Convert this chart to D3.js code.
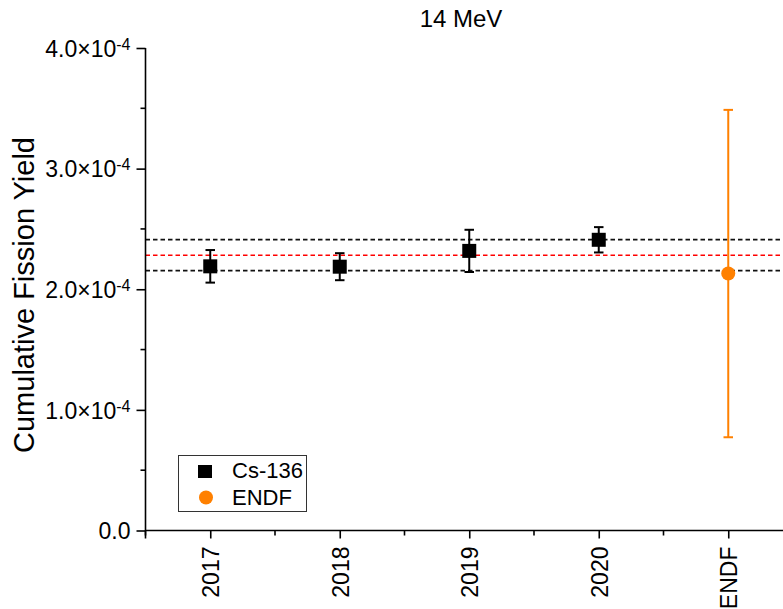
<!DOCTYPE html>
<html>
<head>
<meta charset="utf-8">
<script src="https://cdn.jsdelivr.net/npm/d3@7"></script>
<style>
  html, body { margin: 0; padding: 0; background: #fff; }
  svg { display: block; font-family: "Liberation Sans", Arial, sans-serif; }
</style>
</head>
<body>
<svg id="chart" width="783" height="609"></svg>
<script>
// Cumulative fission yield of Cs-136 at 14 MeV, by measurement year, with the ENDF evaluation
const categories = ["2017", "2018", "2019", "2020", "ENDF"];
const measuredYears = ["2017", "2018", "2019", "2020"];
const measuredYield = [2.19e-4, 2.187e-4, 2.318e-4, 2.41e-4];
const measuredError = [0.135e-4, 0.112e-4, 0.175e-4, 0.105e-4];
const endfYield = [2.13e-4];
const endfError = [1.357e-4];
// reference band: mean (red) and its upper / lower bounds (black)
const meanLine = 2.282e-4;
const boundLines = [2.154e-4, 2.411e-4];
const yTicks = [0, 1e-4, 2e-4, 3e-4, 4e-4];
const yMinorTicks = [0.5e-4, 1.5e-4, 2.5e-4, 3.5e-4];

const svg = d3.select("#chart");
const W = 783;
const plotLeft = 145.5, plotBottom = 530.5, plotTop = 48;
const step = 129.5;

const x = d3.scaleBand().domain(categories).range([plotLeft, plotLeft + step * categories.length]).paddingInner(0).paddingOuter(0);
const y = d3.scaleLinear().domain([0, 4e-4]).range([plotBottom, plotTop]);
const cx = c => x(c) + x.bandwidth() / 2;

const black = "#000";
const orange = "#ff8000";

// dashed reference lines
const refG = svg.append("g");
boundLines.forEach(v => {
  refG.append("line")
    .attr("x1", plotLeft).attr("x2", W)
    .attr("y1", y(v)).attr("y2", y(v))
    .attr("stroke", "#111").attr("stroke-width", 1.6).attr("stroke-dasharray", "4.5,3");
});
refG.append("line")
  .attr("x1", plotLeft).attr("x2", W)
  .attr("y1", y(meanLine)).attr("y2", y(meanLine))
  .attr("stroke", "#f00").attr("stroke-width", 1.6).attr("stroke-dasharray", "4.5,3");

// x axis: major ticks at categories, minor ticks at category boundaries
const xAxis = svg.append("g").attr("transform", `translate(0,${plotBottom})`);
xAxis.append("line").attr("x1", plotLeft).attr("x2", W).attr("y1", 0).attr("y2", 0)
  .attr("stroke", black).attr("stroke-width", 1.6);
const xMinor = categories.map(c => x(c));
xAxis.selectAll("line.minor").data(xMinor).join("line").attr("class", "minor")
  .attr("x1", d => d).attr("x2", d => d).attr("y1", 0).attr("y2", 5)
  .attr("stroke", black).attr("stroke-width", 1.6);
const xa = d3.axisBottom(d3.scalePoint().domain(categories).range([cx(categories[0]), cx(categories[categories.length - 1])]))
  .tickSize(8).tickPadding(9);
const xg = svg.append("g").attr("transform", `translate(0,${plotBottom})`).call(xa);
xg.select(".domain").remove();
xg.selectAll(".tick line").attr("stroke", black).attr("stroke-width", 1.6);
xg.selectAll(".tick text")
  .attr("font-size", 23).attr("fill", black)
  .attr("transform", "rotate(-90)")
  .attr("text-anchor", "end")
  .attr("x", -16).attr("y", 0).attr("dy", "0.36em");

// y axis
const yg = svg.append("g").attr("transform", `translate(${plotLeft},0)`)
  .call(d3.axisLeft(y).tickValues(yTicks).tickSize(9).tickPadding(6).tickFormat(() => ""));
yg.select(".domain").attr("d", `M0,${plotBottom + 8}V${plotTop}`).attr("stroke", black).attr("stroke-width", 1.6);
yg.selectAll(".tick line").attr("stroke", black).attr("stroke-width", 1.6);
yg.selectAll(".tick text").each(function(d) {
  const t = d3.select(this).attr("font-size", 23).attr("fill", black).attr("dy", "0.36em");
  if (d === 0) {
    t.text("0.0");
  } else {
    const m = d / 1e-4;
    t.append("tspan").text(m.toFixed(1) + "\u00d710");
    t.append("tspan").attr("font-size", 16).attr("dy", -7).text("-4");
  }
});
yg.selectAll("line.minor").data(yMinorTicks).join("line").attr("class", "minor")
  .attr("x1", -5).attr("x2", 0).attr("y1", d => y(d)).attr("y2", d => y(d))
  .attr("stroke", black).attr("stroke-width", 1.6);

// titles
svg.append("text").attr("x", 461).attr("y", 27).attr("text-anchor", "middle")
  .attr("font-size", 24).attr("fill", black).text("14 MeV");
svg.append("text").attr("transform", "translate(34,295) rotate(-90)").attr("text-anchor", "middle")
  .attr("font-size", 29).attr("fill", black).text("Cumulative Fission Yield");

// error bars and markers
const capW = 9.5;
function errorBar(g, xc, v, e, color) {
  g.append("line").attr("x1", xc).attr("x2", xc).attr("y1", y(v - e)).attr("y2", y(v + e))
    .attr("stroke", color).attr("stroke-width", 2);
  [v - e, v + e].forEach(b => {
    g.append("line").attr("x1", xc - capW / 2).attr("x2", xc + capW / 2).attr("y1", y(b)).attr("y2", y(b))
      .attr("stroke", color).attr("stroke-width", 2);
  });
}
const dataG = svg.append("g");
measuredYears.forEach((c, i) => errorBar(dataG, cx(c), measuredYield[i], measuredError[i], black));
dataG.selectAll("rect.pt").data(measuredYears).join("rect").attr("class", "pt")
  .attr("x", c => cx(c) - 7).attr("y", (c, i) => y(measuredYield[i]) - 7)
  .attr("width", 14).attr("height", 14).attr("fill", black);
errorBar(dataG, cx("ENDF"), endfYield[0], endfError[0], orange);
dataG.append("circle").attr("cx", cx("ENDF")).attr("cy", y(endfYield[0])).attr("r", 7).attr("fill", orange);

// legend
const lg = svg.append("g");
lg.append("rect").attr("x", 178.5).attr("y", 455.5).attr("width", 128).attr("height", 56)
  .attr("fill", "#fff").attr("stroke", "#333").attr("stroke-width", 1);
lg.append("rect").attr("x", 198).attr("y", 465).attr("width", 14).attr("height", 13).attr("fill", black);
lg.append("circle").attr("cx", 206).attr("cy", 497.5).attr("r", 7).attr("fill", orange);
lg.append("text").attr("x", 232).attr("y", 477.5).attr("font-size", 22).attr("fill", black).text("Cs-136");
lg.append("text").attr("x", 232).attr("y", 505).attr("font-size", 22).attr("fill", black).text("ENDF");
</script>
</body>
</html>
